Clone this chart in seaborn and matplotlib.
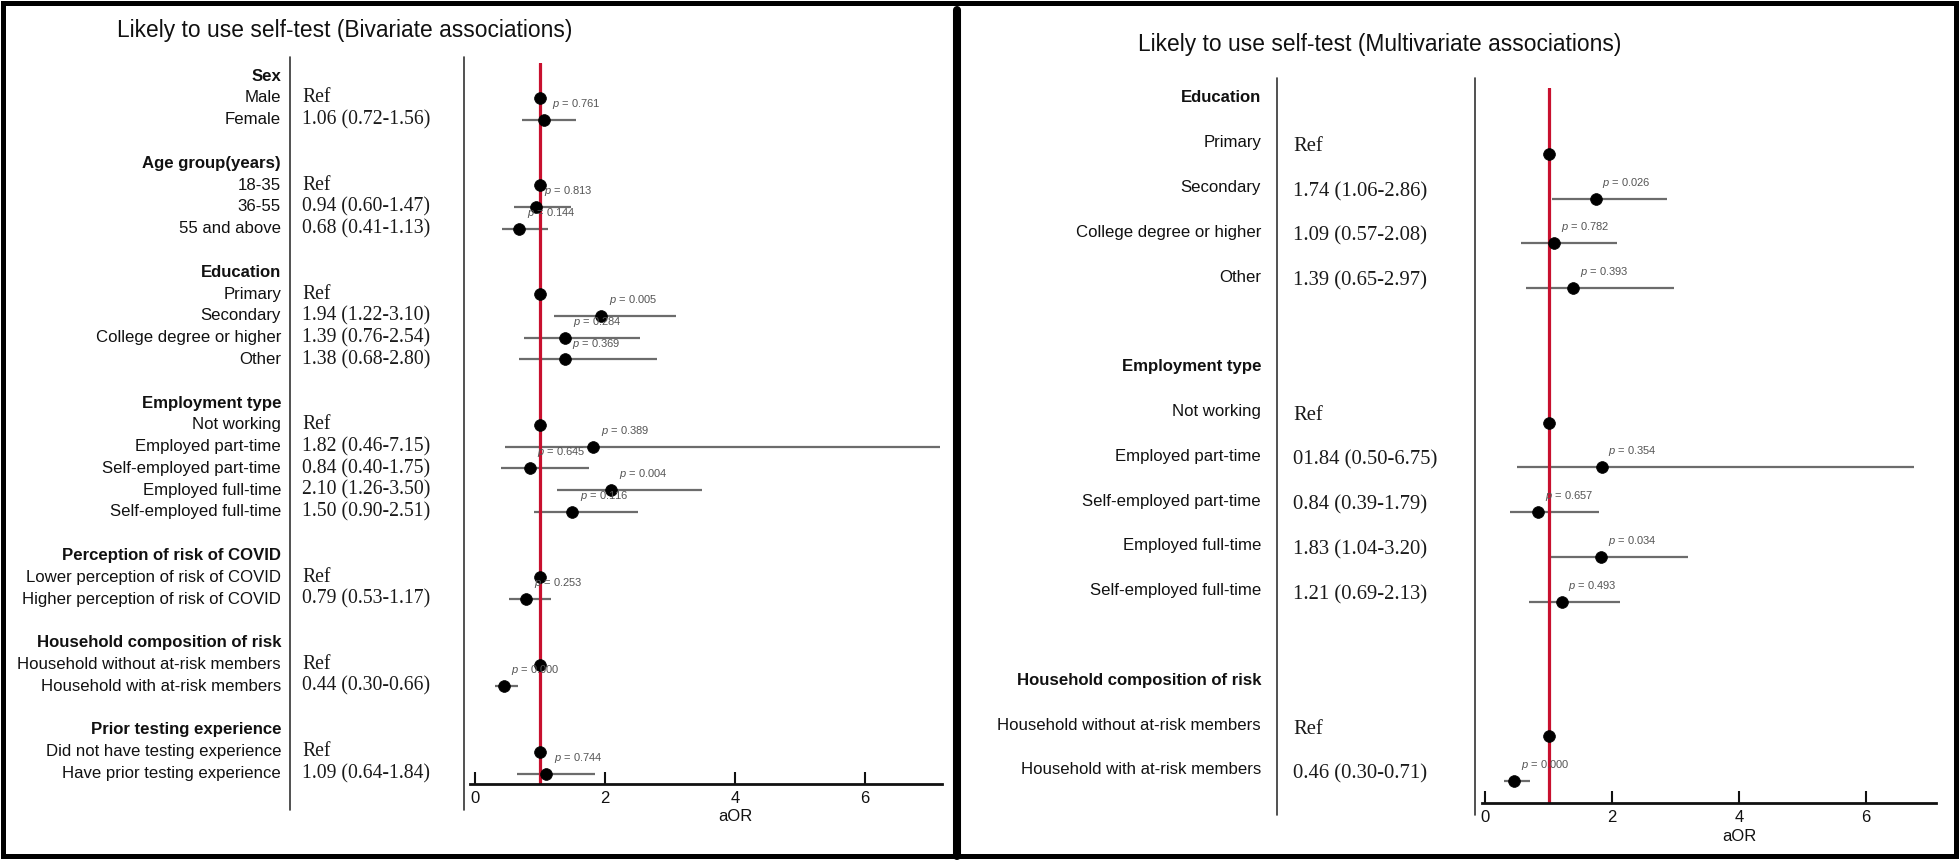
import numpy as np
import pandas as pd
import matplotlib
matplotlib.use("Agg")
import matplotlib.pyplot as plt
import matplotlib.transforms as mtransforms
from matplotlib import font_manager
from matplotlib.lines import Line2D
from matplotlib.patches import Rectangle
import seaborn as sns

nan = np.nan

###############################################################################
# Data: bivariate associations (left panel)
bi_groups = ["Sex", "Age group(years)", "Education", "Employment type",
             "Perception of risk of COVID", "Household composition of risk",
             "Prior testing experience"]
bi_items = [["Male", "Female"],
            ["18-35", "36-55", "55 and above"],
            ["Primary", "Secondary", "College degree or higher", "Other"],
            ["Not working", "Employed part-time", "Self-employed part-time",
             "Employed full-time", "Self-employed full-time"],
            ["Lower perception of risk of COVID", "Higher perception of risk of COVID"],
            ["Household without at-risk members", "Household with at-risk members"],
            ["Did not have testing experience", "Have prior testing experience"]]
bi_text = [["Ref", "1.06 (0.72-1.56)"],
           ["Ref", "0.94 (0.60-1.47)", "0.68 (0.41-1.13)"],
           ["Ref", "1.94 (1.22-3.10)", "1.39 (0.76-2.54)", "1.38 (0.68-2.80)"],
           ["Ref", "1.82 (0.46-7.15)", "0.84 (0.40-1.75)", "2.10 (1.26-3.50)", "1.50 (0.90-2.51)"],
           ["Ref", "0.79 (0.53-1.17)"],
           ["Ref", "0.44 (0.30-0.66)"],
           ["Ref", "1.09 (0.64-1.84)"]]
bi_aor = [[1, 1.06], [1, 0.94, 0.68], [1, 1.94, 1.39, 1.38],
          [1, 1.82, 0.84, 2.10, 1.50], [1, 0.79], [1, 0.44], [1, 1.09]]
bi_lo = [[nan, 0.72], [nan, 0.60, 0.41], [nan, 1.22, 0.76, 0.68],
         [nan, 0.46, 0.40, 1.26, 0.90], [nan, 0.53], [nan, 0.30], [nan, 0.64]]
bi_hi = [[nan, 1.56], [nan, 1.47, 1.13], [nan, 3.10, 2.54, 2.80],
         [nan, 7.15, 1.75, 3.50, 2.51], [nan, 1.17], [nan, 0.66], [nan, 1.84]]
bi_p = [[None, "0.761"], [None, "0.813", "0.144"], [None, "0.005", "0.284", "0.369"],
        [None, "0.389", "0.645", "0.004", "0.116"], [None, "0.253"], [None, "0.000"],
        [None, "0.744"]]

# Data: multivariate associations (right panel)
mv_groups = ["Education", "Employment type", "Household composition of risk"]
mv_items = [["Primary", "Secondary", "College degree or higher", "Other"],
            ["Not working", "Employed part-time", "Self-employed part-time",
             "Employed full-time", "Self-employed full-time"],
            ["Household without at-risk members", "Household with at-risk members"]]
mv_text = [["Ref", "1.74 (1.06-2.86)", "1.09 (0.57-2.08)", "1.39 (0.65-2.97)"],
           ["Ref", "01.84 (0.50-6.75)", "0.84 (0.39-1.79)", "1.83 (1.04-3.20)", "1.21 (0.69-2.13)"],
           ["Ref", "0.46 (0.30-0.71)"]]
mv_aor = [[1, 1.74, 1.09, 1.39], [1, 1.84, 0.84, 1.83, 1.21], [1, 0.46]]
mv_lo = [[nan, 1.06, 0.57, 0.65], [nan, 0.50, 0.39, 1.04, 0.69], [nan, 0.30]]
mv_hi = [[nan, 2.86, 2.08, 2.97], [nan, 6.75, 1.79, 3.20, 2.13], [nan, 0.71]]
mv_p = [[None, "0.026", "0.782", "0.393"], [None, "0.354", "0.657", "0.034", "0.493"],
        [None, "0.000"]]

x_ticks = [0, 2, 4, 6]


def build_rows(groups, items, texts, aor, lo, hi, pv):
    recs = []
    row = 0
    for g, its, tx, a, l, h, p in zip(groups, items, texts, aor, lo, hi, pv):
        recs.append(dict(row=row, label=g, header=True, text="", aor=nan, lo=nan, hi=nan, p=None))
        row += 1
        for k in range(len(its)):
            recs.append(dict(row=row, label=its[k], header=False, text=tx[k],
                             aor=a[k], lo=l[k], hi=h[k], p=p[k]))
            row += 1
        row += 1
    return pd.DataFrame(recs)


bi_df = build_rows(bi_groups, bi_items, bi_text, bi_aor, bi_lo, bi_hi, bi_p)
mv_df = build_rows(mv_groups, mv_items, mv_text, mv_aor, mv_lo, mv_hi, mv_p)

###############################################################################
# Style
sns.set_theme(style="white")


def has_font(name):
    try:
        font_manager.findfont(font_manager.FontProperties(family=name), fallback_to_default=False)
        return True
    except ValueError:
        return False


if has_font("Liberation Sans Narrow"):
    SANS = "Liberation Sans Narrow"
    fs_title, fs_lab, fs_tick, fs_p = 19.5, 14.8, 14, 9.7
else:
    SANS = "Liberation Sans"
    fs_title, fs_lab, fs_tick, fs_p = 16.4, 12.1, 12, 8
SERIF = "Liberation Serif"

plt.rcParams["font.family"] = [SANS, "DejaVu Sans"]
plt.rcParams["mathtext.fontset"] = "custom"
plt.rcParams["mathtext.it"] = SANS + ":italic"
plt.rcParams["mathtext.rm"] = SANS

W, H = 1960, 860
fig = plt.figure(figsize=(W / 100, H / 100), dpi=100)
fig.patch.set_facecolor("white")

RED = "#C8102E"
BAR = "#6c6c6c"


def draw_panel(df, title, lay):
    x0, x1, yt, yb = lay["ax_px"]
    ax = fig.add_axes([x0 / W, 1 - yb / H, (x1 - x0) / W, (yb - yt) / H])
    ax.set_facecolor("none")

    pts = df[~df["header"]]
    ci = pts.dropna(subset=["lo", "hi"])
    ax.hlines(ci["row"], ci["lo"], ci["hi"], color=BAR, lw=1.6, zorder=1)
    ax.axvline(1, color=RED, lw=2.3, zorder=2)
    sns.scatterplot(data=pts, x="aor", y="row", color="black", s=72, edgecolor="black",
                    linewidth=0.5, ax=ax, zorder=3, legend=False)

    for _, r in ci.iterrows():
        ax.text(r["aor"] + lay["p_dx"], r["row"] + lay["p_dy"], r"$\it{p}$ = " + r["p"],
                fontsize=fs_p, color="#555555", ha="left", va="center", zorder=4)

    ax.set_xlim(*lay["xlim"])
    ax.set_ylim(*lay["ylim"])
    ax.set_xticks(x_ticks)
    ax.set_xticklabels([str(t) for t in x_ticks])
    ax.set_yticks([])
    ax.set_ylabel("")
    ax.set_xlabel("aOR", fontsize=fs_tick, color="#111111")
    ax.xaxis.set_label_coords(4, lay["xlab_y"],
                              transform=mtransforms.blended_transform_factory(ax.transData, ax.transAxes))
    ax.tick_params(axis="x", direction="in", length=8.5, width=1.5, colors="#111111",
                   labelsize=fs_tick, pad=5, bottom=True)
    for s in ["top", "right", "left"]:
        ax.spines[s].set_visible(False)
    ax.spines["bottom"].set_linewidth(2.0)
    ax.spines["bottom"].set_color("#111111")

    # label / value columns
    tr = mtransforms.blended_transform_factory(fig.transFigure, ax.transData)
    for _, r in df.iterrows():
        ax.text(lay["label_x"] / W, r["row"] + lay["label_dy"], r["label"], transform=tr,
                ha="right", va="center", fontsize=fs_lab, color="#111111",
                fontweight="bold" if r["header"] else "normal", clip_on=False)
        if r["text"]:
            ax.text(lay["value_x"] / W, r["row"] + lay["value_dy"], r["text"], transform=tr,
                    ha="left", va="center", fontsize=lay["fs_val"], color="#1a1a1a",
                    family=SERIF, clip_on=False)

    for vx in lay["vlines_x"]:
        fig.add_artist(Line2D([vx / W, vx / W], [1 - lay["vlines_y"][0] / H, 1 - lay["vlines_y"][1] / H],
                              color="#333333", lw=1.2, transform=fig.transFigure))

    fig.text(lay["title_xy"][0] / W, 1 - lay["title_xy"][1] / H, title, ha="center", va="center",
             fontsize=fs_title, color="#111111")
    return ax


left_layout = dict(ax_px=(470, 942, 63, 784), xlim=(-0.077, 7.185), ylim=(32.48, -0.6),
                   label_x=281, value_x=302, label_dy=0.0, value_dy=0.0, fs_val=14.2,
                   p_dx=0.12, p_dy=-0.73, xlab_y=-0.035,
                   vlines_x=[290, 464], vlines_y=(57, 810), title_xy=(345, 30))
right_layout = dict(ax_px=(1482, 1936, 88, 803), xlim=(-0.047, 7.10), ylim=(15.49, -0.47),
                    label_x=1261, value_x=1293, label_dy=-0.25, value_dy=-0.16, fs_val=14.9,
                    p_dx=0.1, p_dy=-0.36, xlab_y=-0.036,
                    vlines_x=[1277, 1475], vlines_y=(78, 815), title_xy=(1380, 45))

draw_panel(bi_df, "Likely to use self-test (Bivariate associations)", left_layout)
draw_panel(mv_df, "Likely to use self-test (Multivariate associations)", right_layout)

# outer frame and divider
fig.add_artist(Rectangle((2.5 / W, 4 / H), (1956 - 2.5) / W, (856 - 3) / H, fill=False,
                         ec="black", lw=3.6, transform=fig.transFigure))
fig.add_artist(Line2D([957 / W, 957 / W], [1 - 10 / H, 4 / H], color="black", lw=5.8,
                      transform=fig.transFigure))

fig.savefig("out.png", dpi=100, facecolor="white")
